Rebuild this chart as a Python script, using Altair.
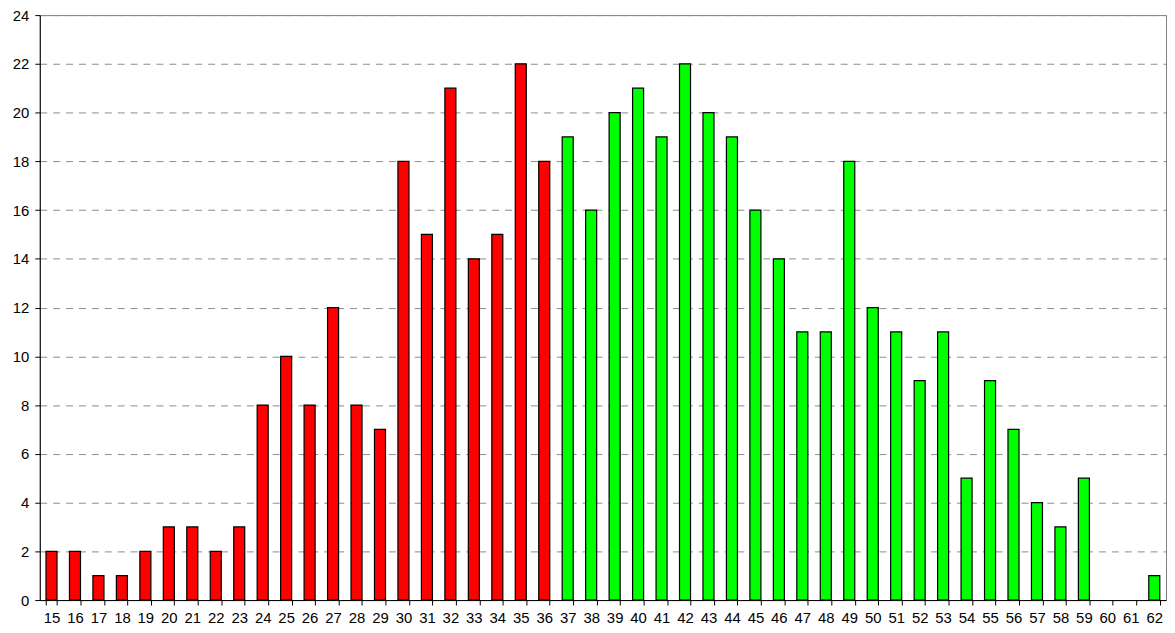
import altair as alt
import pandas as pd

ages = list(range(15, 63))
counts = [2, 2, 1, 1, 2, 3, 3, 2, 3, 8, 10, 8, 12, 8, 7, 18, 15, 21, 14, 15, 22, 18,
          19, 16, 20, 21, 19, 22, 20, 19, 16, 14, 11, 11, 18, 12, 11, 9, 11, 5, 9, 7,
          4, 3, 5, 0, 0, 1]
groups = ["red" if a <= 36 else "green" for a in ages]
age_labels = [str(a) for a in ages]

df = pd.DataFrame({"age": age_labels, "count": counts, "group": groups})

chart = alt.Chart(df).transform_filter("datum.count > 0").mark_bar(stroke="black", strokeWidth=1.2).encode(
    x=alt.X("age:N", sort=None, title=None,
            scale=alt.Scale(domain=age_labels, paddingInner=0.53, paddingOuter=0.265),
            axis=alt.Axis(labelAngle=0, tickBand="extent", tickSize=5, labelPadding=6,
                          domainColor="black", tickColor="black", labelFont="Liberation Sans",
                          labelFontSize=15, labelColor="black")),
    y=alt.Y("count:Q", title=None,
            scale=alt.Scale(domain=[0, 24], nice=False),
            axis=alt.Axis(values=list(range(0, 25, 2)), tickSize=5, labelPadding=6,
                          domainColor="black", tickColor="black", grid=True,
                          gridColor="#8c8c8c", gridDash=[7, 6], gridWidth=1,
                          labelFont="Liberation Sans", labelFontSize=15, labelColor="black")),
    color=alt.Color("group:N", scale=alt.Scale(domain=["red", "green"], range=["#FF0000", "#00FF00"]),
                    legend=None),
).properties(
    width=1134, height=589,
    autosize=alt.AutoSizeParams(type="none"),
    padding={"left": 32, "top": 5, "right": 1, "bottom": 28},
).configure_view(stroke="#808080", strokeWidth=1)

chart.save("out.html", embed_options={"renderer": "svg", "actions": False})
